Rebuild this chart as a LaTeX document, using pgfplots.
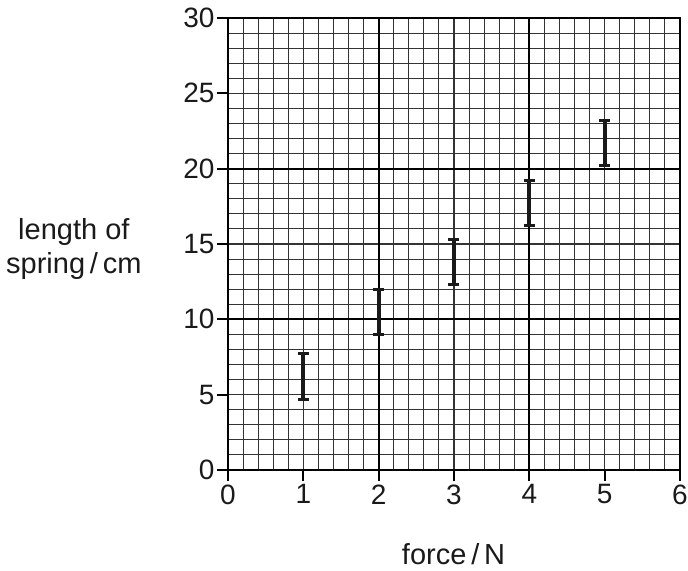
\documentclass[border=0pt]{standalone}
\usepackage{pgfplots}
\pgfplotsset{compat=1.18}
\usepackage{fontspec}
\setmainfont{Liberation Sans}
\definecolor{bar}{HTML}{1A1A1A}
\definecolor{gridc}{HTML}{333333}
\begin{document}
\begin{tikzpicture}
\path[use as bounding box] (-228bp,-101bp) rectangle (460bp,470bp);
\begin{axis}[
  scale only axis,
  width=452bp, height=452bp,
  xmin=0, xmax=6, ymin=0, ymax=30,
  xtick={0,...,6}, ytick={0,5,...,30},
  minor x tick num=4, minor y tick num=4,
  tick align=outside, tick pos=left,
  major tick length=11bp, minor tick length=0pt,
  major tick style={line width=2.2bp, black},
  grid=both,
  minor grid style={gridc, line width=1.1bp},
  major grid style={gridc, line width=1.1bp},
  extra x ticks={2,4,6}, extra y ticks={10,20,30},
  extra tick style={grid=major, major grid style={black, line width=1.8bp}, major tick length=0pt},
  extra x tick labels={}, extra y tick labels={},
  axis line style={black, line width=2.2bp},
  axis on top=false,
  /pgf/number format/assume math mode=true,
  tick label style={font=\fontsize{28bp}{32bp}\selectfont, text=bar},
  yticklabel style={xshift=1bp},
  label style={font=\fontsize{29bp}{34bp}\selectfont, text=bar},
  xlabel={force\,/\,N},
  xlabel style={at={(axis description cs:0.499,-0.210)}, anchor=base},
  ylabel={length of\\spring\,/\,cm},
  ylabel style={rotate=-90, align=center, at={(axis description cs:-0.341,0.49)}, anchor=center},
]
\addplot[bar, line width=3.8bp, mark=-, mark size=5.5bp,
  mark options={solid, line width=3bp, bar}, unbounded coords=jump] coordinates {
  (1,4.7) (1,7.7) (1,nan)
  (2,9.0) (2,12.0) (2,nan)
  (3,12.3) (3,15.3) (3,nan)
  (4,16.2) (4,19.2) (4,nan)
  (5,20.2) (5,23.2)
};
\end{axis}
\end{tikzpicture}
\end{document}
